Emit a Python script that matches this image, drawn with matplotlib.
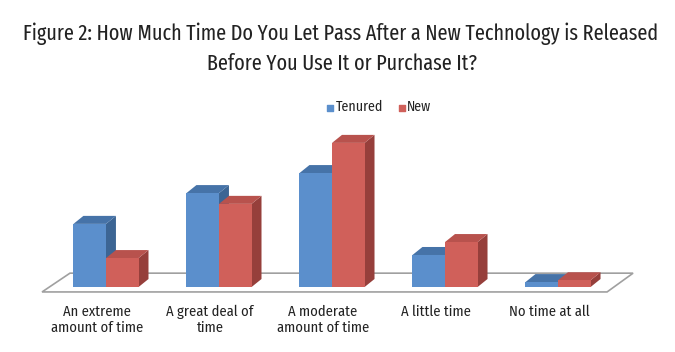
import matplotlib
matplotlib.use("Agg")
import matplotlib.pyplot as plt
import numpy as np

categories = ["An extreme\namount of time", "A great deal of\ntime",
              "A moderate\namount of time", "A little time", "No time at all"]
tenured = [20.5, 30.5, 37.0, 10.4, 1.6]
new = [9.4, 27.0, 46.8, 14.6, 2.2]

title_lines = ["Figure 2: How Much Time Do You Let Pass After a New Technology is Released",
               "Before You Use It or Purchase It?"]

FONT = ["Fira Sans Condensed", "DejaVu Sans"]
TITLE_FONT = ["Fira Sans Extra Condensed", "Fira Sans Condensed", "DejaVu Sans"]
TXT = "#222222"

# face colours: front, top, side
blue = ("#5b8fcc", "#4673a8", "#3c6594")
red = ("#d0605a", "#b8524d", "#963f3b")

fig = plt.figure(figsize=(6.75, 3.52), dpi=100)
ax = fig.add_axes([0, 0, 1, 1])
ax.set_xlim(-0.938, 5.035)
ax.set_ylim(-21.1, 93.2)
ax.axis("off")

w = 0.288      # bar width in category units
dx = 0.088     # depth offset, x
dy = 2.6       # depth offset, y
x = np.arange(len(categories))

# floor
floor_x = [-0.566, 4.434, 4.664, -0.319]
floor_y = [-1.6, -1.6, 4.5, 4.5]
ax.fill(floor_x, floor_y, facecolor="white", edgecolor="#a0a0a0", lw=1.2, zorder=1)


def bars3d(xs, vals, cols, z):
    front, top, side = cols
    ax.bar(xs, vals, width=w, align="edge", color=front, zorder=z + 0.2)
    for x0, h in zip(xs, vals):
        x1 = x0 + w
        ax.fill([x0, x1, x1 + dx, x0 + dx], [h, h, h + dy, h + dy],
                color=top, lw=0, zorder=z + 0.1)
        ax.fill([x1, x1 + dx, x1 + dx, x1], [0, dy, h + dy, h],
                color=side, lw=0, zorder=z)


bars3d(x - w, tenured, blue, 2)
bars3d(x, new, red, 3)

for xi, lab in zip(x, categories):
    ax.text(xi - 0.08, -5.6, lab, ha="center", va="top", fontsize=10.5,
            family=FONT, color=TXT, linespacing=1.2)

# legend
ax.scatter([1.985], [58.2], marker="s", s=16, color=blue[0], zorder=5)
ax.text(2.03, 58.5, "Tenured", va="center", fontsize=10, family=FONT, color=TXT)
ax.scatter([2.615], [58.2], marker="s", s=16, color=red[0], zorder=5)
ax.text(2.66, 58.5, "New", va="center", fontsize=10, family=FONT, color=TXT)

fig.text(0.505, 0.903, title_lines[0], ha="center", va="center", fontsize=15.8,
         family=TITLE_FONT, color=TXT)
fig.text(0.507, 0.82, title_lines[1], ha="center", va="center", fontsize=15.8,
         family=TITLE_FONT, color=TXT)

fig.savefig("out.png", dpi=100)
